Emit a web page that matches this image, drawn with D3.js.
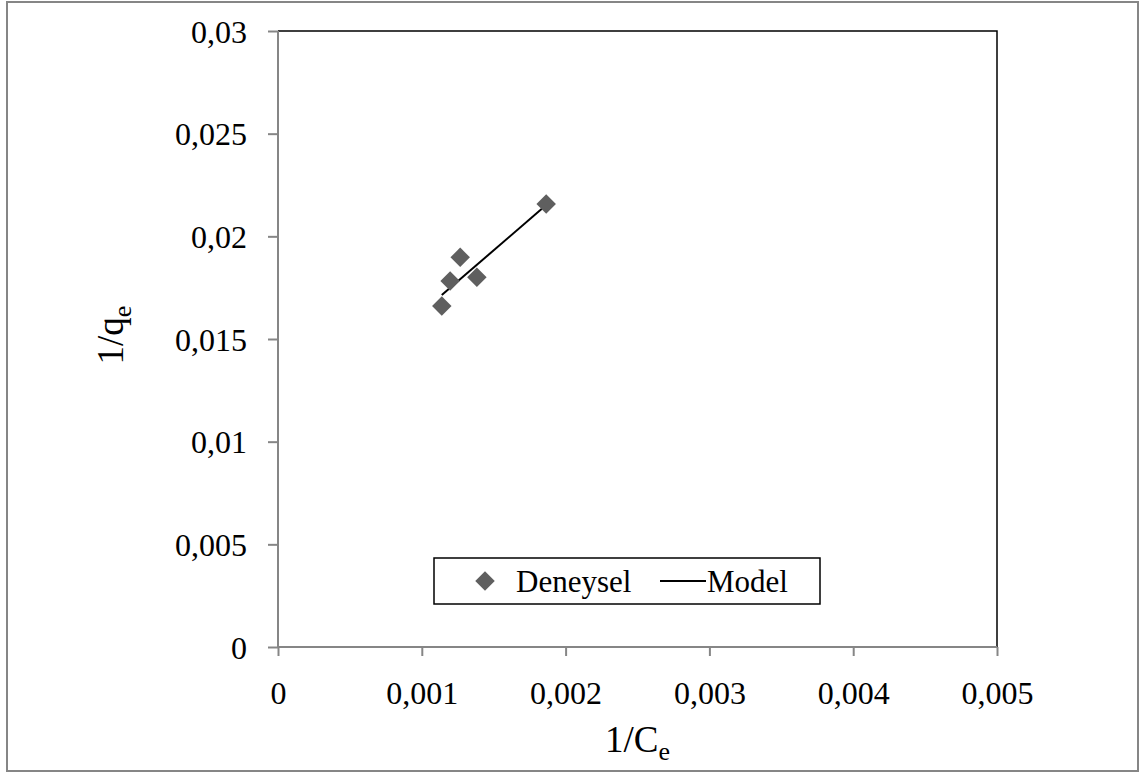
<!DOCTYPE html>
<html>
<head>
<meta charset="utf-8">
<script src="https://cdn.jsdelivr.net/npm/d3@7"></script>
<style>
  body { margin: 0; background: #fff; }
  text { font-family: "Liberation Serif", "DejaVu Serif", serif; fill: #000; }
</style>
</head>
<body>
<svg id="chart"></svg>
<script>
const invCe = [0.001139, 0.001197, 0.001267, 0.001383, 0.001865];
const invQe = [0.016603, 0.017822, 0.018977, 0.018002, 0.021574];

// model line end points
const modelX = [0.001139, 0.001865];
const modelY = [0.01714, 0.021525];

const xTicks = [0, 0.001, 0.002, 0.003, 0.004, 0.005];
const yTicks = [0, 0.005, 0.01, 0.015, 0.02, 0.025, 0.03];

const legendNames = ['Deneysel', 'Model'];

const width = 1141;
const height = 775;
const plot = { left: 278, top: 31, right: 997, bottom: 647 };

const svg = d3.select('#chart')
  .attr('width', width)
  .attr('height', height);

// outer chart border
svg.append('rect')
  .attr('x', 7).attr('y', 2)
  .attr('width', 1131).attr('height', 769)
  .attr('fill', 'none')
  .attr('stroke', '#868686')
  .attr('stroke-width', 2);

const x = d3.scaleLinear().domain([0, 0.005]).range([plot.left, plot.right]);
const y = d3.scaleLinear().domain([0, 0.03]).range([plot.bottom, plot.top]);

const fmt = d => d3.format('~g')(d).replace('.', ',');

// plot area border (top / right black)
svg.append('path')
  .attr('d', `M${plot.left},${plot.top}H${plot.right}V${plot.bottom}`)
  .attr('fill', 'none')
  .attr('stroke', '#000')
  .attr('stroke-width', 1.5);

const xAxis = svg.append('g')
  .attr('transform', `translate(0,${plot.bottom})`)
  .call(d3.axisBottom(x).tickValues(xTicks).tickFormat(fmt).tickSize(9).tickPadding(25));

const yAxis = svg.append('g')
  .attr('transform', `translate(${plot.left},0)`)
  .call(d3.axisLeft(y).tickValues(yTicks).tickFormat(fmt).tickSize(10).tickPadding(21));

[xAxis, yAxis].forEach(g => {
  g.select('.domain').attr('stroke', '#868686').attr('stroke-width', 2);
  g.selectAll('.tick line').attr('stroke', '#868686').attr('stroke-width', 2);
  g.selectAll('.tick text')
    .style('font-family', '"Liberation Serif", serif')
    .style('font-size', '32px')
    .attr('fill', '#000');
});
yAxis.selectAll('.tick text').attr('dy', '0.35em');
xAxis.select('.domain').attr('d', `M${plot.left},0H${plot.right}`);
yAxis.select('.domain').attr('d', `M0,${plot.bottom}V${plot.top}`);

// model line
const line = d3.line().x(d => x(d[0])).y(d => y(d[1]));
svg.append('path')
  .datum(d3.zip(modelX, modelY))
  .attr('d', line)
  .attr('fill', 'none')
  .attr('stroke', '#000')
  .attr('stroke-width', 2);

// diamonds
const diamond = d3.symbol().type(d3.symbolSquare).size(190);
svg.selectAll('.pt')
  .data(d3.zip(invCe, invQe))
  .enter()
  .append('path')
  .attr('class', 'pt')
  .attr('d', diamond)
  .attr('transform', d => `translate(${x(d[0])},${y(d[1])}) rotate(45)`)
  .attr('fill', '#5f5f5f');

// axis titles
svg.append('text')
  .attr('x', (plot.left + plot.right) / 2)
  .attr('y', 752)
  .attr('text-anchor', 'middle')
  .style('font-size', '37px')
  .html('1/C<tspan font-size="26px" dy="8">e</tspan>');

svg.append('text')
  .attr('transform', 'translate(123,335) rotate(-90)')
  .attr('text-anchor', 'middle')
  .style('font-size', '37px')
  .html('1/q<tspan font-size="26px" dy="8">e</tspan>');

// legend
const lg = svg.append('g');
lg.append('rect')
  .attr('x', 434).attr('y', 558)
  .attr('width', 386).attr('height', 46)
  .attr('fill', '#fff')
  .attr('stroke', '#000')
  .attr('stroke-width', 1.5);

lg.append('path')
  .attr('d', diamond)
  .attr('transform', 'translate(485,581) rotate(45)')
  .attr('fill', '#5f5f5f');
lg.append('text')
  .attr('x', 516).attr('y', 581).attr('dy', '0.35em')
  .style('font-size', '31px')
  .text(legendNames[0]);

lg.append('line')
  .attr('x1', 660).attr('x2', 706)
  .attr('y1', 581).attr('y2', 581)
  .attr('stroke', '#000')
  .attr('stroke-width', 2);
lg.append('text')
  .attr('x', 707).attr('y', 581).attr('dy', '0.35em')
  .style('font-size', '31px')
  .text(legendNames[1]);
</script>
</body>
</html>
